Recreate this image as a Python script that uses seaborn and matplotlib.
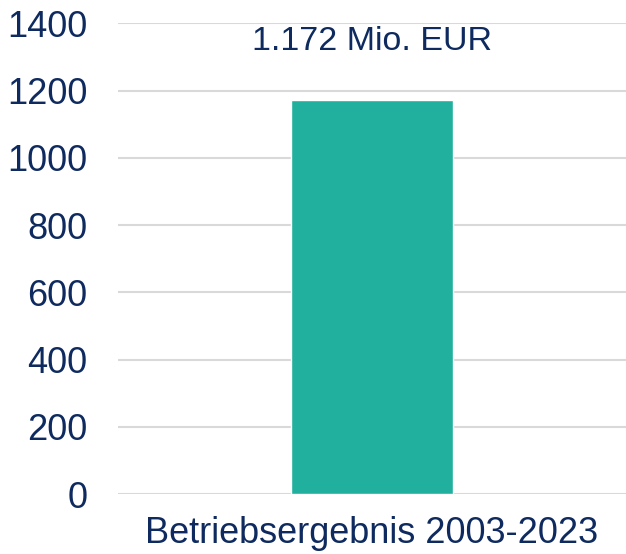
import pandas as pd
import seaborn as sns
import matplotlib.pyplot as plt

categories = ["Betriebsergebnis 2003-2023"]
values = [1172]
y_ticks = [0, 200, 400, 600, 800, 1000, 1200, 1400]

navy = "#0E2A5E"
teal = "#20B09D"

sns.set_style("white")
plt.rcParams["font.family"] = ["Liberation Sans", "DejaVu Sans"]

df = pd.DataFrame({"cat": categories, "val": values})

fig = plt.figure(figsize=(6.26, 5.54), dpi=100)
ax = fig.add_axes([0.1885, 0.108, 0.8115, 0.85])

sns.barplot(data=df, x="cat", y="val", color=teal, saturation=1, width=0.317, ax=ax)

ax.set_ylim(0, 1400)
ax.set_xlim(-0.5, 0.5)
ax.set_yticks(y_ticks)
ax.yaxis.grid(True, color="#D9D9D9", linewidth=1.5)
ax.set_axisbelow(True)
for s in ax.spines.values():
    s.set_visible(False)
ax.set_xlabel("")
ax.set_ylabel("")
ax.tick_params(axis="y", length=0, pad=22, labelsize=26, labelcolor=navy)
ax.tick_params(axis="x", length=0, pad=16, labelsize=26, labelcolor=navy)

label = f"{values[0]:,}".replace(",", ".") + " Mio. EUR"
ax.text(0, 1345, label, ha="center", va="center", fontsize=24.5, color=navy)

fig.savefig("out.png", dpi=100)
